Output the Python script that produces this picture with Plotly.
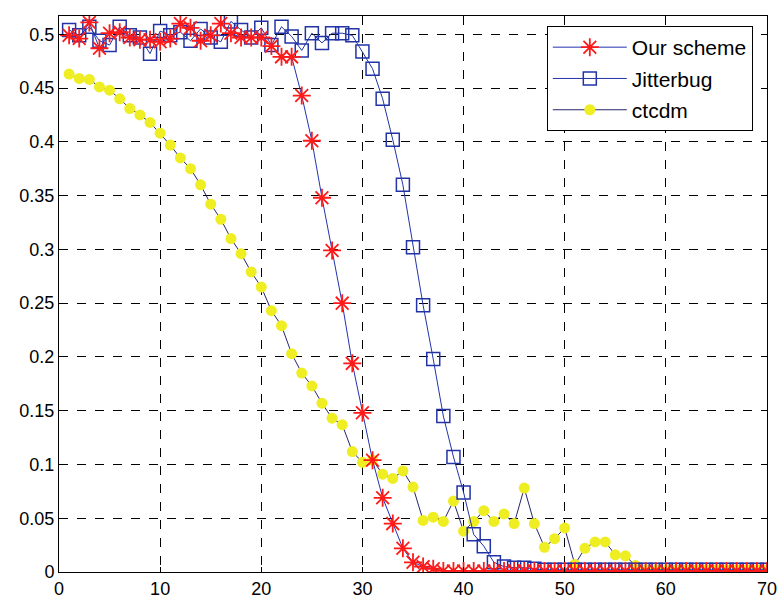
import plotly.graph_objects as go

x_vals = list(range(1, 71))

our_scheme = [0.499, 0.496, 0.511, 0.487, 0.501, 0.502, 0.497, 0.495, 0.495, 0.493,
              0.496, 0.510, 0.506, 0.494, 0.499, 0.510, 0.501, 0.497, 0.497, 0.497,
              0.489, 0.479, 0.479, 0.443, 0.401, 0.348, 0.299, 0.250, 0.194, 0.148,
              0.104, 0.069, 0.045, 0.022, 0.009, 0.005, 0.003] + [0.001] * 33

jitterbug = [0.504, 0.499, 0.507, 0.494, 0.490, 0.507, 0.499, 0.497, 0.482, 0.503,
             0.499, 0.502, 0.494, 0.505, 0.497, 0.493, 0.512, 0.504, 0.497, 0.506,
             0.490, 0.507, 0.498, 0.485, 0.501, 0.492, 0.501, 0.501, 0.499, 0.484,
             0.468, 0.440, 0.402, 0.360, 0.302, 0.248, 0.198, 0.145, 0.107, 0.074,
             0.035, 0.024, 0.009, 0.005, 0.004, 0.004, 0.003] + [0.002] * 23

ctcdm = [0.463, 0.459, 0.458, 0.451, 0.448, 0.440, 0.431, 0.425, 0.418, 0.408,
         0.397, 0.385, 0.375, 0.360, 0.342, 0.328, 0.310, 0.296, 0.279, 0.265,
         0.243, 0.229, 0.203, 0.185, 0.173, 0.157, 0.143, 0.137, 0.112, 0.102,
         0.104, 0.091, 0.087, 0.094, 0.079, 0.048, 0.051, 0.047, 0.066, 0.038,
         0.047, 0.057, 0.047, 0.054, 0.045, 0.078, 0.045, 0.023, 0.031, 0.041,
         0.007, 0.022, 0.028, 0.028, 0.016, 0.015, 0.006] + [0.002] * 13

x_ticks = [0, 10, 20, 30, 40, 50, 60, 70]
y_ticks = [0, 0.05, 0.1, 0.15, 0.2, 0.25, 0.3, 0.35, 0.4, 0.45, 0.5]
y_tick_labels = ["0", "0.05", "0.1", "0.15", "0.2", "0.25", "0.3", "0.35", "0.4", "0.45", "0.5"]

FONT = "Liberation Sans, Arial, sans-serif"

fig = go.Figure()

fig.add_trace(go.Scatter(
    x=x_vals, y=ctcdm, name="ctcdm", mode="lines+markers", legendgroup="c", legendrank=3,
    line=dict(color="#24246e", width=1),
    marker=dict(symbol="circle", size=11, color="#eeee22", line=dict(width=0)),
))
fig.add_trace(go.Scatter(
    x=x_vals, y=jitterbug, name="Jitterbug", mode="lines+markers", legendgroup="b", legendrank=2,
    line=dict(color="#2233a6", width=1),
    marker=dict(symbol="square-open", size=13, color="#2233a6", line=dict(width=1.5, color="#2233a6")),
))
fig.add_trace(go.Scatter(
    x=x_vals, y=our_scheme, name="Our scheme", mode="lines+markers", legendgroup="a", legendrank=1,
    line=dict(color="#2233b0", width=1),
    marker=dict(symbol="asterisk-open", size=15, color="#ff1a1a", line=dict(width=1.8, color="#ff1a1a")),
))

axis_common = dict(
    showline=True, linecolor="black", linewidth=1, mirror=True,
    showgrid=True, gridcolor="black", gridwidth=1, griddash="dash",
    zeroline=False, ticks="inside", ticklen=5, tickcolor="black",
    automargin=False, ticklabeloverflow="allow",
    tickfont=dict(family=FONT, size=18, color="black"),
)

fig.update_xaxes(range=[0, 70], tickvals=x_ticks, **axis_common)
fig.update_yaxes(range=[0, 0.517], tickvals=y_ticks, ticktext=y_tick_labels, **axis_common)

fig.update_layout(
    width=777, height=599,
    margin=dict(l=59, r=10, t=16, b=27, autoexpand=False),
    plot_bgcolor="white", paper_bgcolor="white",
    font=dict(family=FONT, size=18, color="black"),
    legend=dict(
        x=0.689, y=0.982, xanchor="left", yanchor="top",
        bgcolor="white", bordercolor="black", borderwidth=1,
        traceorder="grouped", tracegroupgap=1, itemwidth=74,
        font=dict(family=FONT, size=21, color="black"),
    ),
)

fig.write_html(
    "out.html",
    config={"displayModeBar": False},
    post_script="document.body.style.margin='0';document.body.style.padding='0';",
)
